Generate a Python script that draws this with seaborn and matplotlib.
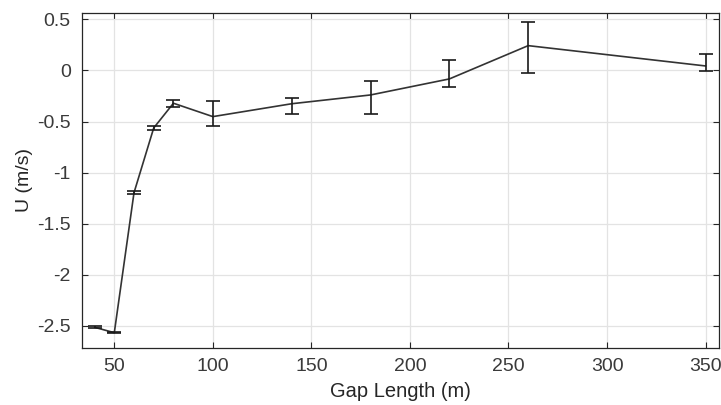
import matplotlib
matplotlib.use("Agg")
import matplotlib.pyplot as plt
import seaborn as sns
import pandas as pd

# Mean velocity versus gap length, with lower/upper bounds of the spread
gap_length = [40, 50, 60, 70, 80, 100, 140, 180, 220, 260, 350]
u_mean = [-2.515, -2.568, -1.197, -0.563, -0.321, -0.452, -0.326, -0.240, -0.083, 0.243, 0.044]
u_low = [-2.525, -2.572, -1.213, -0.583, -0.360, -0.544, -0.423, -0.423, -0.162, -0.027, -0.008]
u_high = [-2.505, -2.564, -1.180, -0.544, -0.286, -0.296, -0.266, -0.100, 0.100, 0.475, 0.165]

x_ticks = [50, 100, 150, 200, 250, 300, 350]
y_ticks = [-2.5, -2, -1.5, -1, -0.5, 0, 0.5]
y_tick_labels = ["-2.5", "-2", "-1.5", "-1", "-0.5", "0", "0.5"]

sns.set_theme(style="whitegrid")
plt.rcParams["font.family"] = ["Liberation Sans", "DejaVu Sans"]
plt.rcParams["axes.unicode_minus"] = False

df = pd.DataFrame({"gap": gap_length, "u": u_mean, "lo": u_low, "hi": u_high})

fig = plt.figure(figsize=(7.21, 4.05), dpi=100)
ax = fig.add_axes([0.1137, 0.1407, 0.8835, 0.8273])

line_color = "#333333"
sns.lineplot(data=df, x="gap", y="u", ax=ax, color=line_color, linewidth=1.2,
             estimator=None, sort=False)

yerr = [df["u"] - df["lo"], df["hi"] - df["u"]]
ax.errorbar(df["gap"], df["u"], yerr=yerr, fmt="none", ecolor="#1a1a1a",
            elinewidth=1.2, capsize=4.8, capthick=1.2)

ax.set_xlim(33.6, 356.8)
ax.set_ylim(-2.718, 0.563)
ax.set_xticks(x_ticks)
ax.set_xticklabels([str(t) for t in x_ticks])
ax.set_yticks(y_ticks)
ax.set_yticklabels(y_tick_labels)

ax.set_xlabel("Gap Length (m)", fontsize=14.5, color="#262626", labelpad=5)
ax.set_ylabel("U (m/s)", fontsize=14, color="#262626", labelpad=3)

ax.grid(True, color="#e3e3e3", linewidth=0.9)
ax.set_facecolor("white")
for side, spine in ax.spines.items():
    spine.set_visible(True)
    spine.set_color("#262626")
    spine.set_linewidth(0.9)

ax.tick_params(axis="both", which="both", direction="in", length=4, width=0.8,
               color="#262626", labelsize=14, labelcolor="#3a3a3a",
               top=True, right=True, bottom=True, left=True)
ax.tick_params(axis="x", pad=7)
ax.tick_params(axis="y", pad=8)

fig.savefig("out.png", dpi=100, facecolor="white")
